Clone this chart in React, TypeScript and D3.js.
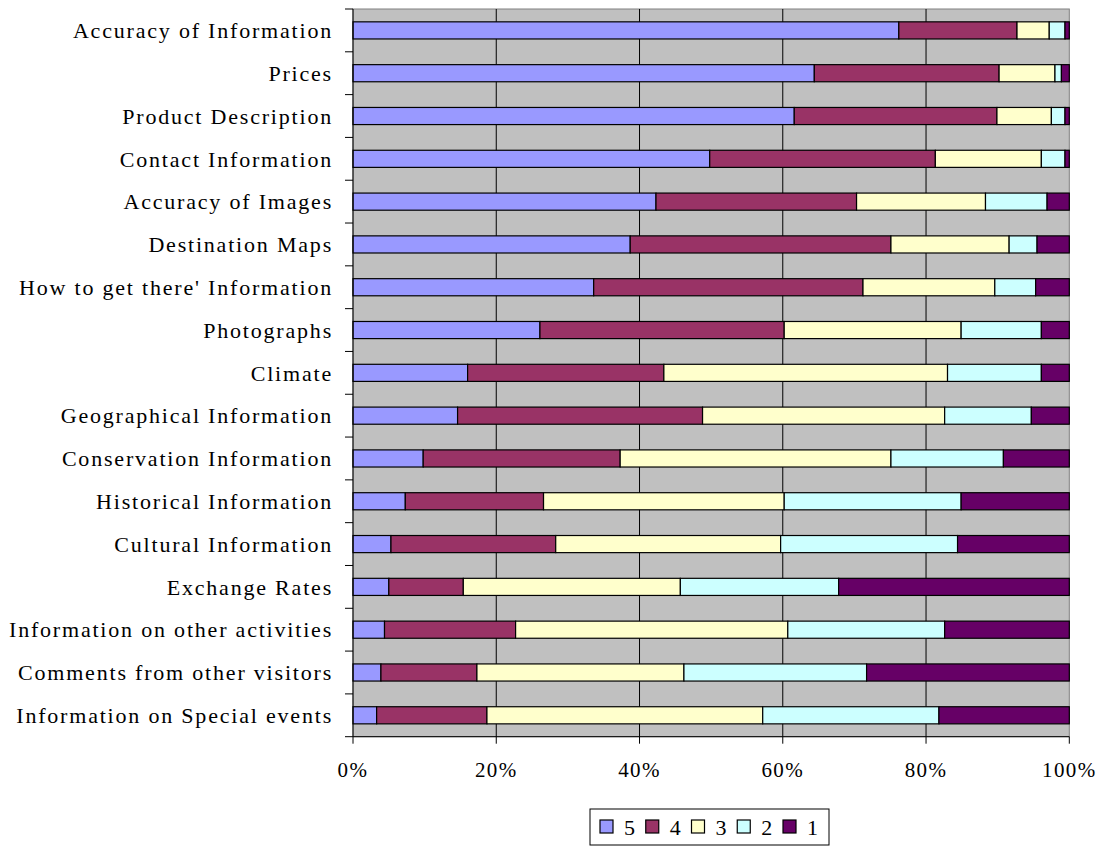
import * as d3 from "d3";

const categories = [
  "Accuracy of Information",
  "Prices",
  "Product Description",
  "Contact Information",
  "Accuracy of Images",
  "Destination Maps",
  "How to get there' Information",
  "Photographs",
  "Climate",
  "Geographical Information",
  "Conservation Information",
  "Historical Information",
  "Cultural Information",
  "Exchange Rates",
  "Information on other activities",
  "Comments from other visitors",
  "Information on Special events",
];

// share of answers per rating, in %
const rating5 = [76.2, 64.4, 61.6, 49.8, 42.3, 38.7, 33.6, 26.1, 16.0, 14.6, 9.8, 7.3, 5.3, 5.0, 4.4, 3.9, 3.3];
const rating4 = [16.5, 25.8, 28.3, 31.5, 28.0, 36.4, 37.6, 34.1, 27.4, 34.2, 27.5, 19.3, 23.0, 10.4, 18.3, 13.4, 15.4];
const rating3 = [4.5, 7.8, 7.6, 14.8, 18.0, 16.5, 18.4, 24.7, 39.6, 33.8, 37.8, 33.6, 31.4, 30.3, 38.0, 28.9, 38.5];
const rating2 = [2.2, 0.9, 1.9, 3.3, 8.6, 3.9, 5.7, 11.2, 13.1, 12.1, 15.7, 24.7, 24.7, 22.1, 21.9, 25.5, 24.6];
const rating1 = [0.6, 1.1, 0.6, 0.6, 3.1, 4.5, 4.7, 3.9, 3.9, 5.3, 9.2, 15.1, 15.6, 32.2, 17.4, 28.3, 18.2];

const seriesKeys = ["5", "4", "3", "2", "1"];
const seriesColors = ["#9999FF", "#993366", "#FFFFCC", "#CCFFFF", "#660066"];
const xTicks = [0, 0.2, 0.4, 0.6, 0.8, 1];

const W = 1103;
const H = 847;
const left = 353;
const right = 1069.3;
const top = 9;
const bottom = 736.7;
const font = "'Liberation Serif', 'Times New Roman', serif";

export default function App() {
  const rows = categories.map((c, i) => ({
    cat: c,
    "5": rating5[i],
    "4": rating4[i],
    "3": rating3[i],
    "2": rating2[i],
    "1": rating1[i],
  }));

  const stacked = d3.stack<any>().keys(seriesKeys).offset(d3.stackOffsetExpand)(rows);

  const x = d3.scaleLinear().domain([0, 1]).range([left, right]);
  const y = d3.scaleBand().domain(categories).range([top, bottom]).paddingInner(0.6).paddingOuter(0.3);
  const color = d3.scaleOrdinal<string>().domain(seriesKeys).range(seriesColors);
  const step = y.step();
  const fmt = d3.format(".0%");

  const legend = d3.scalePoint().domain(seriesKeys).range([600, 783]);

  return (
    <svg width={W} height={H} style={{ position: "absolute", left: 0, top: 0, display: "block" }} fontFamily={font}>
      <rect x={0} y={0} width={W} height={H} fill="#fff" />
      <rect x={left} y={top} width={right - left} height={bottom - top} fill="#C0C0C0" stroke="#808080" strokeWidth={1} />
      {xTicks.slice(1, -1).map((t) => (
        <line key={t} x1={x(t)} x2={x(t)} y1={top} y2={bottom} stroke="#000" strokeWidth={1} />
      ))}

      {stacked.map((s) => (
        <g key={s.key} fill={color(s.key)}>
          {s.map((d: any) => (
            <rect
              key={d.data.cat}
              x={x(d[0])}
              y={y(d.data.cat)}
              width={x(d[1]) - x(d[0])}
              height={y.bandwidth()}
              stroke="#000"
              strokeWidth={1.2}
            />
          ))}
        </g>
      ))}

      {/* value axis */}
      <line x1={left} x2={right} y1={bottom} y2={bottom} stroke="#000" />
      {xTicks.map((t) => (
        <g key={t}>
          <line x1={x(t)} x2={x(t)} y1={bottom} y2={bottom + 7} stroke="#000" />
          <text x={x(t)} y={777} textAnchor="middle" fontSize={21} letterSpacing={1.4}>
            {fmt(t)}
          </text>
        </g>
      ))}

      {/* category axis */}
      <line x1={left} x2={left} y1={top} y2={bottom} stroke="#000" />
      {d3.range(categories.length + 1).map((i) => (
        <line key={i} x1={left - 8} x2={left} y1={top + i * step} y2={top + i * step} stroke="#000" />
      ))}
      {categories.map((c) => (
        <text
          key={c}
          x={333}
          y={(y(c) ?? 0) + y.bandwidth() / 2}
          dy="0.35em"
          textAnchor="end"
          fontSize={22}
          letterSpacing={1.8}
        >
          {c}
        </text>
      ))}

      {/* legend */}
      <rect x={590} y={809} width={239} height={36} fill="#fff" stroke="#000" />
      {seriesKeys.map((k) => (
        <g key={k} transform={`translate(${legend(k)},827)`}>
          <rect x={0} y={-7} width={13} height={13} fill={color(k)} stroke="#000" strokeWidth={1.2} />
          <text x={24} y={0} dy="0.35em" fontSize={22}>
            {k}
          </text>
        </g>
      ))}
    </svg>
  );
}
